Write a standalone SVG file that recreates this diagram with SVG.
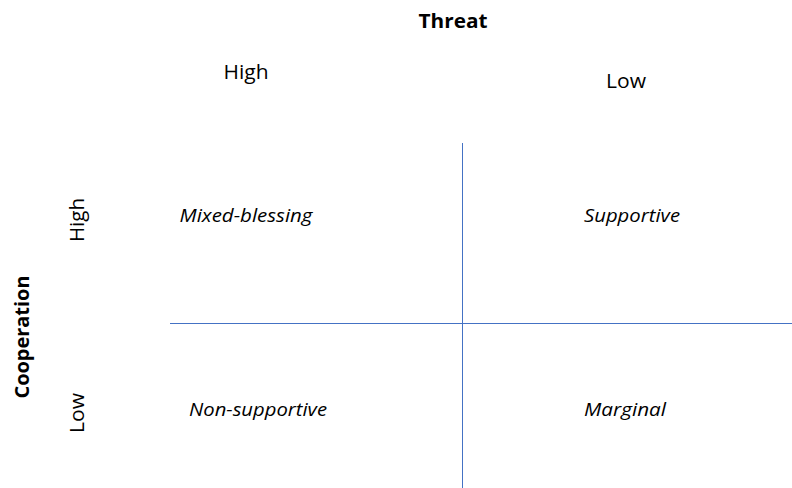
<svg xmlns="http://www.w3.org/2000/svg" width="792" height="488" viewBox="0 0 792 488">
<style>
text{font-family:"Open Sans","Noto Sans","Liberation Sans",sans-serif;fill:#000}
.h{font-size:20px;font-weight:bold}
.a{font-size:19.5px}
.q{font-size:17.5px;font-style:italic}
.ln{stroke:#4472C4;stroke-width:1;fill:none;shape-rendering:crispEdges}
</style>
<rect width="792" height="488" fill="#fff"/>
<g id="connectors">
<line class="ln" x1="170" y1="323.5" x2="792" y2="323.5"/>
<line class="ln" x1="462.5" y1="143" x2="462.5" y2="488"/>
</g>
<g id="threat-title"><text class="h" x="453" y="28" text-anchor="middle" textLength="69" lengthAdjust="spacingAndGlyphs">Threat</text></g>
<g id="threat-high"><text class="a" x="246" y="79" text-anchor="middle" textLength="45" lengthAdjust="spacingAndGlyphs">High</text></g>
<g id="threat-low"><text class="a" x="626" y="88" text-anchor="middle" textLength="40" lengthAdjust="spacingAndGlyphs">Low</text></g>
<g id="cooperation-title"><text class="h" transform="translate(29 337) rotate(-90)" text-anchor="middle" textLength="123" lengthAdjust="spacingAndGlyphs">Cooperation</text></g>
<g id="cooperation-high"><text class="a" transform="translate(84 220) rotate(-90)" text-anchor="middle" textLength="44" lengthAdjust="spacingAndGlyphs">High</text></g>
<g id="cooperation-low"><text class="a" transform="translate(84 413) rotate(-90)" text-anchor="middle" textLength="40" lengthAdjust="spacingAndGlyphs">Low</text></g>
<g id="mixed-blessing"><text class="q" x="246" y="222" text-anchor="middle" textLength="133" lengthAdjust="spacingAndGlyphs">Mixed-blessing</text></g>
<g id="supportive"><text class="q" x="632" y="222" text-anchor="middle" textLength="96" lengthAdjust="spacingAndGlyphs">Supportive</text></g>
<g id="non-supportive"><text class="q" x="258" y="416" text-anchor="middle" textLength="138" lengthAdjust="spacingAndGlyphs">Non-supportive</text></g>
<g id="marginal"><text class="q" x="625" y="416" text-anchor="middle" textLength="82" lengthAdjust="spacingAndGlyphs">Marginal</text></g>
</svg>
